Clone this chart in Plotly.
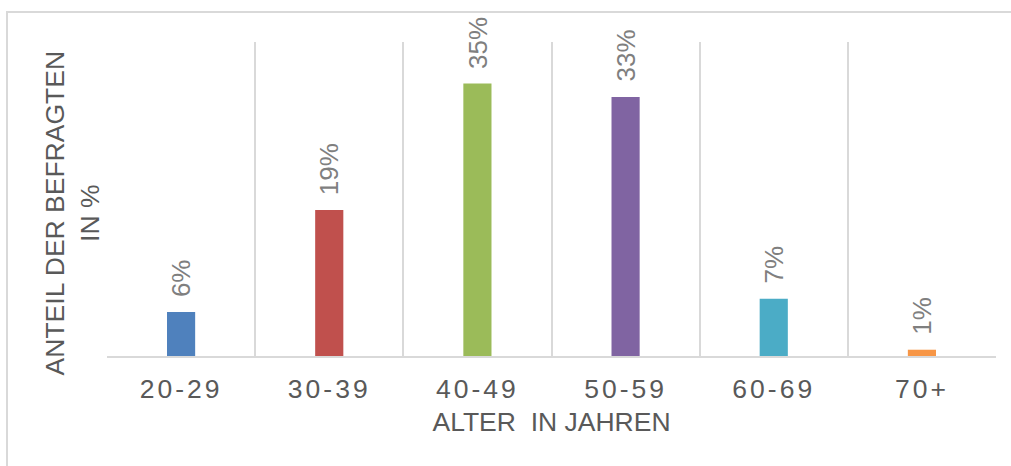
import plotly.graph_objects as go

categories = ["20-29", "30-39", "40-49", "50-59", "60-69", "70+"]
values = [5.6, 18.6, 34.7, 33.0, 7.3, 0.8]
colors = ["#4F81BD", "#C0504D", "#9BBB59", "#8064A2", "#4BACC6", "#F79646"]
x_title = "ALTER  IN JAHREN"
y_title = "ANTEIL DER BEFRAGTEN<br>IN %"

FONT = "Arial, Liberation Sans, sans-serif"

fig = go.Figure()
fig.add_trace(go.Bar(
    x=categories, y=values, marker=dict(color=colors, line=dict(width=0)),
    width=0.19, hoverinfo="skip",
))

for c, v in zip(categories, values):
    fig.add_annotation(
        x=c, y=v, text=f"{v:.0f}%", textangle=-90, showarrow=False,
        xanchor="center", yanchor="bottom", yshift=13,
        font=dict(family=FONT, size=26, color="#7F7F7F"),
    )

fig.add_annotation(
    xref="paper", yref="paper", x=-0.0395, y=0.4538, text=y_title,
    textangle=-90, showarrow=False, xanchor="center", yanchor="middle",
    font=dict(family=FONT, size=26.5, color="#595959"), align="center",
)

fig.add_shape(
    type="rect", xref="paper", yref="paper",
    x0=-0.1125, x1=1.1, y0=-0.5, y1=1.0955,
    line=dict(color="#D9D9D9", width=2), fillcolor="rgba(0,0,0,0)",
)

fig.update_layout(
    width=1011, height=466,
    margin=dict(l=107, r=15, t=42, b=110),
    paper_bgcolor="white", plot_bgcolor="white",
    showlegend=False,
    font=dict(family=FONT, color="#595959"),
    xaxis=dict(
        type="category", tickson="boundaries", showgrid=True,
        gridcolor="#D9D9D9", gridwidth=2, showline=True,
        linecolor="#D9D9D9", linewidth=2, ticks="",
        tickvals=categories,
        ticktext=[f"<span style='letter-spacing:3px'>{c}</span>" for c in categories],
        tickfont=dict(family=FONT, size=26.5, color="#595959"),
        ticklabelstandoff=8,
        title=dict(text=x_title, font=dict(family=FONT, size=26.5, color="#595959"), standoff=10),
        range=[-0.5, 5.5], fixedrange=True,
    ),
    yaxis=dict(
        range=[0, 40], showgrid=False, zeroline=False, showticklabels=False,
        ticks="", showline=False, fixedrange=True,
    ),
)

fig.write_html("out.html")
